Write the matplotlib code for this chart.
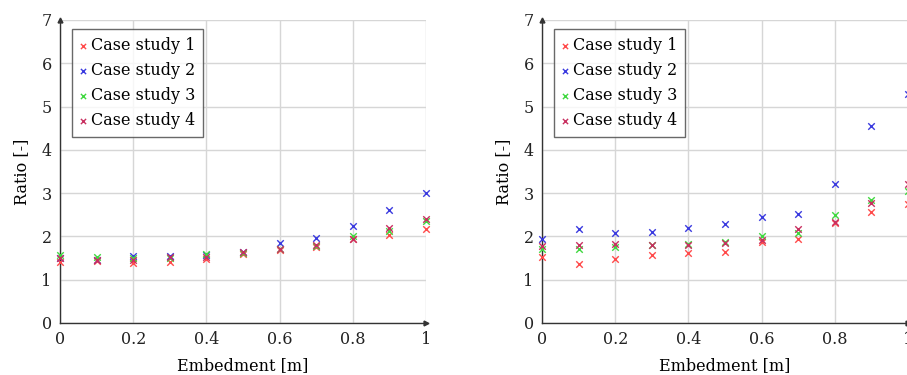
import matplotlib
matplotlib.use("Agg")
import matplotlib.pyplot as plt

# Embedment depths (m)
embedment = [0.0, 0.1, 0.2, 0.3, 0.4, 0.5, 0.6, 0.7, 0.8, 0.9, 1.0]

# Left panel ratios
left_case1 = [1.42, 1.43, 1.38, 1.42, 1.48, 1.60, 1.68, 1.75, 1.93, 2.04, 2.18]
left_case2 = [1.50, 1.45, 1.55, 1.55, 1.58, 1.65, 1.85, 1.97, 2.25, 2.62, 3.00]
left_case3 = [1.57, 1.52, 1.50, 1.50, 1.60, 1.62, 1.72, 1.78, 2.00, 2.12, 2.35]
left_case4 = [1.50, 1.45, 1.45, 1.52, 1.52, 1.63, 1.70, 1.80, 1.95, 2.20, 2.41]

# Right panel ratios
right_case1 = [1.52, 1.37, 1.47, 1.58, 1.62, 1.63, 1.87, 1.93, 2.30, 2.57, 2.75]
right_case2 = [1.93, 2.16, 2.08, 2.10, 2.19, 2.29, 2.46, 2.51, 3.21, 4.54, 5.28]
right_case3 = [1.70, 1.70, 1.75, 1.80, 1.83, 1.87, 2.00, 2.07, 2.50, 2.85, 3.05]
right_case4 = [1.78, 1.80, 1.82, 1.80, 1.80, 1.85, 1.92, 2.17, 2.33, 2.78, 3.20]

labels = ["Case study 1", "Case study 2", "Case study 3", "Case study 4"]
colors = ["#ff4a4a", "#3a3adf", "#3fd83f", "#c83060"]

x_ticks = [0, 0.2, 0.4, 0.6, 0.8, 1]
x_ticklabels = ["0", "0.2", "0.4", "0.6", "0.8", "1"]
y_ticks = [0, 1, 2, 3, 4, 5, 6, 7]

plt.rcParams['font.family'] = ['DejaVu Serif']
plt.rcParams['font.size'] = 10.5

fig = plt.figure(figsize=(9.07, 3.75), dpi=100)
ax_left = fig.add_axes([0.0662, 0.1387, 0.4035, 0.808])
ax_right = fig.add_axes([0.5976, 0.1387, 0.4035, 0.808])


def style_axes(ax):
    ax.set_xlim(0, 1)
    ax.set_ylim(0, 7)
    ax.set_xticks(x_ticks)
    ax.set_xticklabels(x_ticklabels)
    ax.set_yticks(y_ticks)
    ax.tick_params(length=0, pad=6, labelsize=11.5, colors="#222222")
    ax.grid(True, color="#d6d6d6", linewidth=1.0)
    ax.set_axisbelow(True)
    for side in ("top", "right"):
        ax.spines[side].set_visible(False)
    for side in ("left", "bottom"):
        ax.spines[side].set_color("#333333")
        ax.spines[side].set_linewidth(1.0)
    # arrow heads at axis ends
    ax.plot(1, 0, ">", color="#333333", markersize=3.5,
            transform=ax.get_yaxis_transform(), clip_on=False)
    ax.plot(0, 1, "^", color="#333333", markersize=3.5,
            transform=ax.get_xaxis_transform(), clip_on=False)
    ax.set_xlabel("Embedment [m]", fontsize=11.5, labelpad=6)
    ax.set_ylabel("Ratio [-]", fontsize=11.5, labelpad=8)


for ax, series in ((ax_left, [left_case1, left_case2, left_case3, left_case4]),
                   (ax_right, [right_case1, right_case2, right_case3, right_case4])):
    style_axes(ax)
    for vals, lab, col in zip(series, labels, colors):
        ax.scatter(embedment, vals, marker="x", s=22, linewidths=1.0,
                   color=col, label=lab, clip_on=False, zorder=3)
    leg = ax.legend(loc="upper left", bbox_to_anchor=(0.032, 0.97),
                    fontsize=11.5, frameon=True, fancybox=False,
                    handlelength=0.4, handletextpad=0.3, borderpad=0.5,
                    labelspacing=0.5, markerscale=0.8, borderaxespad=0)
    leg.get_frame().set_edgecolor("#444444")
    leg.get_frame().set_linewidth(1.0)

fig.savefig("out.png", dpi=100)
